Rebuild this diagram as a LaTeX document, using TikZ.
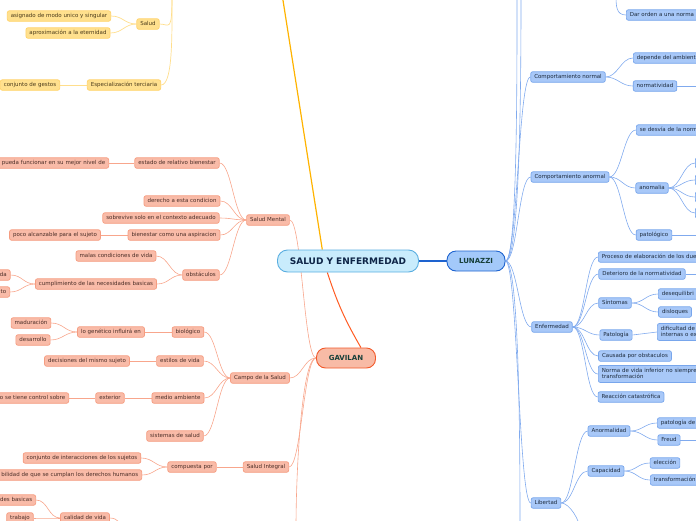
\documentclass[tikz,border=0pt]{standalone}
\usepackage{fontspec}
\setmainfont{DejaVu Sans}
\usetikzlibrary{backgrounds}
\definecolor{rootfill}{HTML}{C9ECFC}
\definecolor{rootdraw}{HTML}{5AAEE0}
\definecolor{roottext}{HTML}{0E2547}
\definecolor{lunfill}{HTML}{A3C9FA}
\definecolor{lundraw}{HTML}{1E63CF}
\definecolor{gavfill}{HTML}{F8BBA6}
\definecolor{gavdraw}{HTML}{F2592A}
\definecolor{captext}{HTML}{17403A}
\definecolor{bfill}{HTML}{A8C8F8}
\definecolor{bdraw}{HTML}{78A6EC}
\definecolor{btext}{HTML}{1D2B3D}
\definecolor{blink}{HTML}{80AAEE}
\definecolor{sfill}{HTML}{F9BBA8}
\definecolor{sdraw}{HTML}{F59C80}
\definecolor{stext}{HTML}{4B2E27}
\definecolor{slink}{HTML}{F8A68C}
\definecolor{yfill}{HTML}{FFE08E}
\definecolor{ydraw}{HTML}{FFD36A}
\definecolor{ytext}{HTML}{4A3A1A}
\definecolor{ylink}{HTML}{FFDE8C}
\definecolor{ymain}{HTML}{FFB300}
\definecolor{gmain}{HTML}{FF5B22}
\tikzset{
  box/.style={rectangle, rounded corners=2pt, line width=0.7pt, font=\fontsize{5.5}{6.5}\selectfont,
    inner xsep=3.5pt, inner ysep=2.6pt, text height=4.1pt, text depth=1.2pt},
  ynode/.style={box, draw=ydraw, fill=yfill, text=ytext},
  snode/.style={box, draw=sdraw, fill=sfill, text=stext},
  bnode/.style={box, draw=bdraw, fill=bfill, text=btext},
  cutl/.style={anchor=east, text width=#1, align=right},
  cutr/.style={anchor=west, text width=#1, align=left},
  twoline/.style={text depth=7.7pt},
  rootbox/.style={rectangle, rounded corners=10pt, line width=0.9pt, draw=rootdraw, fill=rootfill,
    text=roottext, font=\fontsize{9}{10}\selectfont\bfseries, minimum width=141pt, minimum height=22pt},
  lunbox/.style={rectangle, rounded corners=9pt, line width=0.9pt, draw=lundraw, fill=lunfill,
    text=captext, font=\fontsize{7}{8}\selectfont\bfseries, minimum width=58pt, minimum height=20pt},
  gavbox/.style={rectangle, rounded corners=9pt, line width=0.9pt, draw=gavdraw, fill=gavfill,
    text=captext, font=\fontsize{7}{8}\selectfont\bfseries, minimum width=59pt, minimum height=20pt},
  yline/.style={draw=ylink, line width=0.7pt},
  sline/.style={draw=slink, line width=0.6pt},
  bline/.style={draw=blink, line width=0.6pt},
  rgo/.style={out=0, in=180, distance=12pt},
  lgo/.style={out=180, in=0, distance=12pt}
}
\begin{document}
\begin{tikzpicture}[x=1pt,y=-1pt]
\useasboundingbox (0,0) rectangle (696,520);
\clip (0,0) rectangle (696,520);

\node[rootbox] (root) at (348,261) {SALUD Y ENFERMEDAD};
\node[lunbox] (lunazzi) at (476,261) {LUNAZZI};
\node[gavbox] (gavilan) at (346,358) {GAVILAN};

\node[ynode] (salud) at (148,24) {Salud};
\node[ynode] (asignado) at (59,16) {asignado de modo unico y singular};
\node[ynode] (eternidad) at (68,33) {aproximación a la eternidad};
\node[ynode] (terciaria) at (124,85) {Especialización terciaria};
\node[ynode] (gestos) at (30,85) {conjunto de gestos};
\coordinate (ytop) at (172,-6);
\coordinate (yroot) at (282,-6);

\node[snode] (mental) at (268,220) {Salud Mental};
\node[snode] (bienestar) at (177,163) {estado de relativo bienestar};
\node[snode, cutl=120pt] (funcionar) at (109,163) {pueda funcionar en su mejor nivel de};
\node[snode] (derecho) at (182,201) {derecho a esta condicion};
\node[snode] (sobrevive) at (161,218) {sobrevive solo en el contexto adecuado};
\node[snode] (aspiracion) at (174,235) {bienestar como una aspiracion};
\node[snode] (alcanzable) at (55,235) {poco alcanzable para el sujeto};
\node[snode] (obstaculos) at (201,275) {obstáculos};
\node[snode] (malas) at (116,256) {malas condiciones de vida};
\node[snode] (necesidades) at (96,284) {cumplimiento de las necesidades basicas};
\node[snode, cutl=20pt] (da) at (10.5,275) {da};
\node[snode, cutl=20pt] (to) at (10,292) {to};

\node[snode] (campo) at (260,378) {Campo de la Salud};
\node[snode] (biologico) at (188,332) {biológico};
\node[snode] (genetico) at (111,332) {lo genético influirá en};
\node[snode] (maduracion) at (31,323) {maduración};
\node[snode] (desarrollo) at (33,340) {desarrollo};
\node[snode] (estilos) at (180,361) {estilos de vida};
\node[snode] (decisiones) at (87,361) {decisiones del mismo sujeto};
\node[snode] (ambiente) at (178,398) {medio ambiente};
\node[snode] (exterior) at (110,398) {exterior};
\node[snode, cutl=80pt] (control) at (69,398) {o se tiene control sobre};
\node[snode] (sistemas) at (175,436) {sistemas de salud};

\node[snode] (integral) at (266,467) {Salud Integral};
\node[snode] (compuesta) at (192,467) {compuesta por};
\node[snode] (interacciones) at (82,458) {conjunto de interacciones de los sujetos};
\node[snode, cutl=150pt] (derechos) at (142,475) {bilidad de que se cumplan los derechos humanos};
\node[snode, cutl=40pt] (basicas) at (36,500) {des basicas};
\node[snode] (trabajo) at (20,518) {trabajo};
\node[snode] (calidad) at (85,518) {calidad de vida};
\coordinate (sbot) at (296,528);
\coordinate (cbot) at (122,530);

\node[bnode] (orden) at (626,15) [anchor=west] {Dar orden a una norma};
\node[bnode] (cnormal) at (568,77) {Comportamiento normal};
\node[bnode, cutr=80pt] (depende) at (633,58) {depende del ambient};
\node[bnode] (normatividad) at (655,86) {normatividad};
\node[bnode] (canormal) at (570,177) {Comportamiento anormal};
\node[bnode, cutr=80pt] (desvia) at (636,130) {se desvía de la norm};
\node[bnode] (anomalia) at (652,188) {anomalia};
\node[bnode, anchor=west, minimum width=20pt] (an1) at (695,163) {};
\node[bnode, anchor=west, minimum width=20pt] (an2) at (695,180) {};
\node[bnode, anchor=west, minimum width=20pt] (an3) at (695,197) {};
\node[bnode, anchor=west, minimum width=20pt] (an4) at (695,213) {};
\node[bnode] (patologico) at (654,235) {patológico};
\node[bnode] (enfermedad) at (552,327) {Enfermedad};
\node[bnode, cutr=120pt] (proceso) at (598,257) {Proceso de elaboración de los due};
\node[bnode] (deterioro) at (642,274) {Deterioro de la normatividad};
\node[bnode] (sintomas) at (615,303) {Síntomas};
\node[bnode, cutr=60pt] (desequilibrio) at (658,294) {desequilibri};
\node[bnode] (disloques) at (675,312) {disloques};
\node[bnode] (patologia) at (616,335) {Patología};
\node[bnode, cutr=60pt, twoline] (dificultad) at (657,332) {dificultad de\\internas o ex};
\node[bnode] (causada) at (635,356) {Causada por obstaculos};
\node[bnode, cutr=120pt, twoline] (norma) at (598,374) {Norma de vida inferior no siempre\\transformación};
\node[bnode] (reaccion) at (631,397) {Reacción catastrófica};
\node[bnode] (libertad) at (546,503) {Libertad};
\node[bnode] (anormalidad) at (609,431) {Anormalidad};
\node[bnode, cutr=60pt] (patologiade) at (657,423) {patología de};
\node[bnode] (freud) at (669,440) {Freud};
\node[bnode] (capacidad) at (606,471) {Capacidad};
\node[bnode] (eleccion) at (665,463) {elección};
\node[bnode, cutr=60pt] (transformacion) at (650,480) {transformación};
\coordinate (ltop1) at (517,-6);
\coordinate (ltop2) at (521,-6);
\coordinate (lbot) at (520,528);
\coordinate (otop) at (616,-6);
\coordinate (nrmend) at (700,86);
\coordinate (patend) at (700,235);
\coordinate (detend) at (700,274);
\coordinate (freend) at (700,440);
\coordinate (libend) at (580,530);

\begin{scope}[on background layer]
\clip (0,0) rectangle (696,520);
\draw[ymain, line width=1.2pt] (root.156) -- (yroot);
\draw[gmain, line width=1pt] (root.209) to[bend right=6] (gavilan.35);
\draw[lundraw, line width=1.2pt] (root.east) -- (lunazzi.west);

\draw[yline] (salud.east) .. controls +(10,0) and +(0,40) .. (ytop);
\draw[yline] (terciaria.east) .. controls +(12,0) and +(0,40) .. (ytop);
\draw[yline] (salud.west) to[lgo] (asignado.east);
\draw[yline] (salud.west) to[lgo] (eternidad.east);
\draw[yline] (terciaria.west) -- (gestos.east);

\draw[sline] (gavilan.west) to[lgo] (mental.east);
\draw[sline] (gavilan.west) to[lgo] (campo.east);
\draw[sline] (gavilan.west) to[lgo] (integral.east);
\draw[sline] (gavilan.west) .. controls +(-14,0) and +(0,-60) .. (sbot);
\draw[sline] (mental.west) to[lgo] (bienestar.east);
\draw[sline] (mental.west) to[lgo] (derecho.east);
\draw[sline] (mental.west) to[lgo] (sobrevive.east);
\draw[sline] (mental.west) to[lgo] (aspiracion.east);
\draw[sline] (mental.west) to[lgo] (obstaculos.east);
\draw[sline] (bienestar.west) -- (funcionar.east);
\draw[sline] (aspiracion.west) -- (alcanzable.east);
\draw[sline] (obstaculos.west) to[lgo] (malas.east);
\draw[sline] (obstaculos.west) to[lgo] (necesidades.east);
\draw[sline] (necesidades.west) to[lgo] (da.east);
\draw[sline] (necesidades.west) to[lgo] (to.east);
\draw[sline] (campo.west) to[lgo] (biologico.east);
\draw[sline] (campo.west) to[lgo] (estilos.east);
\draw[sline] (campo.west) to[lgo] (ambiente.east);
\draw[sline] (campo.west) to[lgo] (sistemas.east);
\draw[sline] (biologico.west) -- (genetico.east);
\draw[sline] (genetico.west) to[lgo] (maduracion.east);
\draw[sline] (genetico.west) to[lgo] (desarrollo.east);
\draw[sline] (estilos.west) -- (decisiones.east);
\draw[sline] (ambiente.west) -- (exterior.east);
\draw[sline] (exterior.west) -- (control.east);
\draw[sline] (integral.west) -- (compuesta.east);
\draw[sline] (compuesta.west) to[lgo] (interacciones.east);
\draw[sline] (compuesta.west) to[lgo] (derechos.east);
\draw[sline] (calidad.west) to[lgo] (basicas.east);
\draw[sline] (calidad.west) to[lgo] (trabajo.east);
\draw[sline] (calidad.east) .. controls +(8,0) and +(0,-6) .. (cbot);

\draw[bline] (lunazzi.east) .. controls +(12,0) and +(0,80) .. (ltop1);
\draw[bline] (lunazzi.east) .. controls +(15,0) and +(0,80) .. (ltop2);
\draw[bline] (lunazzi.east) .. controls +(14,0) and +(0,-80) .. (lbot);
\draw[bline] (lunazzi.east) to[rgo] (cnormal.west);
\draw[bline] (lunazzi.east) to[rgo] (canormal.west);
\draw[bline] (lunazzi.east) to[rgo] (enfermedad.west);
\draw[bline] (lunazzi.east) to[rgo] (libertad.west);
\draw[bline] (otop) .. controls +(0,12) and +(-10,0) .. (orden.west);
\draw[bline] (cnormal.east) to[rgo] (depende.west);
\draw[bline] (cnormal.east) to[rgo] (normatividad.west);
\draw[bline] (normatividad.east) -- (nrmend);
\draw[bline] (canormal.east) to[rgo] (desvia.west);
\draw[bline] (canormal.east) to[rgo] (anomalia.west);
\draw[bline] (canormal.east) to[rgo] (patologico.west);
\draw[bline] (anomalia.east) to[rgo] (an1.west);
\draw[bline] (anomalia.east) to[rgo] (an2.west);
\draw[bline] (anomalia.east) to[rgo] (an3.west);
\draw[bline] (anomalia.east) to[rgo] (an4.west);
\draw[bline] (patologico.east) -- (patend);
\draw[bline] (enfermedad.east) to[rgo] (proceso.west);
\draw[bline] (enfermedad.east) to[rgo] (deterioro.west);
\draw[bline] (enfermedad.east) to[rgo] (sintomas.west);
\draw[bline] (enfermedad.east) to[rgo] (patologia.west);
\draw[bline] (enfermedad.east) to[rgo] (causada.west);
\draw[bline] (enfermedad.east) to[rgo] (norma.west);
\draw[bline] (enfermedad.east) to[rgo] (reaccion.west);
\draw[bline] (deterioro.east) -- (detend);
\draw[bline] (sintomas.east) to[rgo] (desequilibrio.west);
\draw[bline] (sintomas.east) to[rgo] (disloques.west);
\draw[bline] (patologia.east) -- (dificultad.west);
\draw[bline] (libertad.east) to[rgo] (anormalidad.west);
\draw[bline] (libertad.east) to[rgo] (capacidad.west);
\draw[bline] (libertad.east) .. controls +(8,0) and +(0,-10) .. (libend);
\draw[bline] (anormalidad.east) to[rgo] (patologiade.west);
\draw[bline] (anormalidad.east) to[rgo] (freud.west);
\draw[bline] (freud.east) -- (freend);
\draw[bline] (capacidad.east) to[rgo] (eleccion.west);
\draw[bline] (capacidad.east) to[rgo] (transformacion.west);
\end{scope}
\end{tikzpicture}
\end{document}
